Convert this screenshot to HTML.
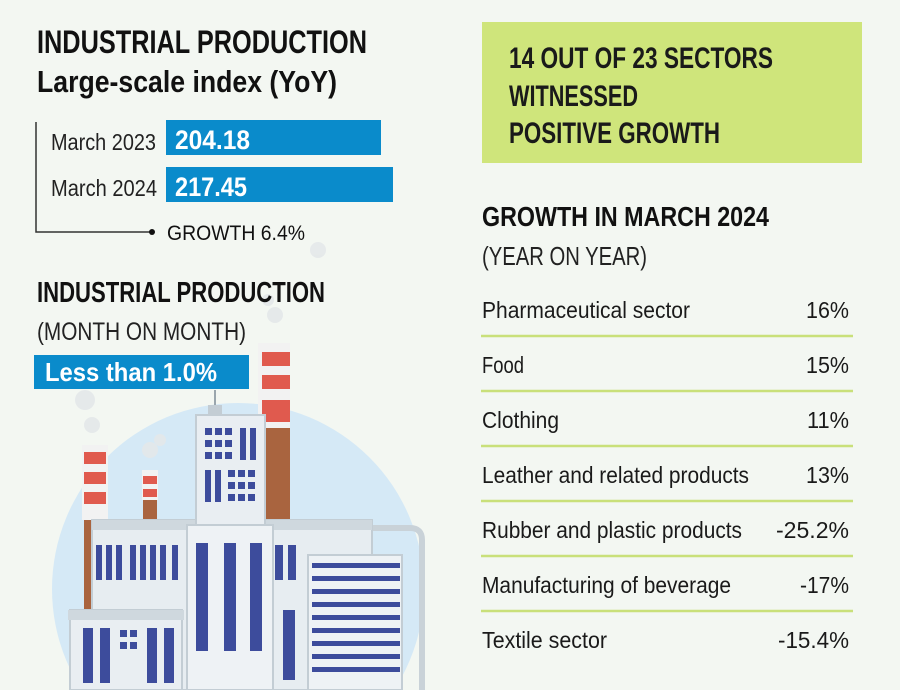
<!DOCTYPE html>
<html><head><meta charset="utf-8"><style>
html,body{margin:0;padding:0;background:#f3f7f2;width:900px;height:690px;overflow:hidden;}
svg{display:block;}
text{font-family:"Liberation Sans",sans-serif;}
</style></head><body>
<svg width="900" height="690" viewBox="0 0 900 690" xmlns="http://www.w3.org/2000/svg">
<rect width="900" height="690" fill="#f3f7f2"/>
<circle cx="238" cy="589" r="186" fill="#d5e9f6"/>
<g fill="#e4e8ea" opacity="0.9">
<circle cx="85" cy="400" r="10"/><circle cx="92" cy="425" r="8"/>
<circle cx="150" cy="450" r="8"/><circle cx="160" cy="440" r="6"/>
<circle cx="275" cy="315" r="8"/><circle cx="268" cy="300" r="6"/>
<circle cx="318" cy="250" r="8"/>
</g>
<rect x="84" y="445" width="22" height="170" fill="#a9643f"/>
<rect x="82" y="445" width="26" height="75" fill="#f2f2f2"/>
<rect x="84" y="452" width="22" height="12" fill="#e05a4e"/>
<rect x="84" y="472" width="22" height="12" fill="#e05a4e"/>
<rect x="84" y="492" width="22" height="12" fill="#e05a4e"/>
<rect x="143" y="470" width="14" height="55" fill="#a9643f"/>
<rect x="142" y="470" width="16" height="30" fill="#f2f2f2"/>
<rect x="143" y="476" width="14" height="8" fill="#e05a4e"/>
<rect x="143" y="489" width="14" height="8" fill="#e05a4e"/>
<rect x="262" y="345" width="28" height="180" fill="#a9643f"/>
<rect x="258" y="343" width="32" height="85" fill="#f2f2f2"/>
<rect x="262" y="352" width="28" height="14" fill="#e05a4e"/>
<rect x="262" y="375" width="28" height="14" fill="#e05a4e"/>
<rect x="262" y="400" width="28" height="22" fill="#e05a4e"/>
<path d="M360 528 H410 Q422 528 422 540 V690" fill="none" stroke="#c9d2d8" stroke-width="6"/>
<rect x="92" y="520" width="280" height="170" fill="#e7edf1" stroke="#c3cdd4" stroke-width="2"/>
<rect x="92" y="520" width="280" height="10" fill="#cfd8de"/>
<g fill="#3d4c9c">
<rect x="96" y="545" width="6" height="35"/><rect x="106" y="545" width="6" height="35"/><rect x="116" y="545" width="6" height="35"/>
<rect x="130" y="545" width="6" height="35"/><rect x="140" y="545" width="6" height="35"/><rect x="150" y="545" width="6" height="35"/><rect x="160" y="545" width="6" height="35"/>
<rect x="172" y="545" width="6" height="35"/>
<rect x="275" y="545" width="8" height="35"/><rect x="288" y="545" width="8" height="35"/>
</g>
<rect x="196" y="415" width="69" height="110" fill="#e9eef2" stroke="#c3cdd4" stroke-width="2"/>
<rect x="208" y="405" width="14" height="10" fill="#c3cdd4"/>
<rect x="214" y="390" width="2" height="15" fill="#9aa6ad"/>
<g fill="#3d4c9c">
<rect x="205" y="428" width="7" height="7"/><rect x="215" y="428" width="7" height="7"/><rect x="225" y="428" width="7" height="7"/>
<rect x="205" y="440" width="7" height="7"/><rect x="215" y="440" width="7" height="7"/><rect x="225" y="440" width="7" height="7"/>
<rect x="205" y="452" width="7" height="7"/><rect x="215" y="452" width="7" height="7"/><rect x="225" y="452" width="7" height="7"/>
<rect x="240" y="428" width="6" height="32"/><rect x="250" y="428" width="6" height="32"/>
<rect x="205" y="470" width="6" height="32"/><rect x="215" y="470" width="6" height="32"/>
<rect x="228" y="470" width="7" height="7"/><rect x="238" y="470" width="7" height="7"/><rect x="248" y="470" width="7" height="7"/>
<rect x="228" y="482" width="7" height="7"/><rect x="238" y="482" width="7" height="7"/><rect x="248" y="482" width="7" height="7"/>
<rect x="228" y="494" width="7" height="7"/><rect x="238" y="494" width="7" height="7"/><rect x="248" y="494" width="7" height="7"/>
</g>
<rect x="187" y="525" width="86" height="165" fill="#eef2f5" stroke="#c3cdd4" stroke-width="2"/>
<g fill="#3d4c9c">
<rect x="196" y="543" width="12" height="108"/><rect x="224" y="543" width="12" height="108"/><rect x="250" y="543" width="12" height="108"/>
</g>
<rect x="70" y="610" width="112" height="80" fill="#e9eef2" stroke="#c3cdd4" stroke-width="2"/>
<rect x="68" y="610" width="116" height="10" fill="#cfd8de"/>
<g fill="#3d4c9c">
<rect x="83" y="628" width="10" height="55"/><rect x="100" y="628" width="10" height="55"/>
<rect x="120" y="630" width="7" height="7"/><rect x="130" y="630" width="7" height="7"/><rect x="120" y="642" width="7" height="7"/><rect x="130" y="642" width="7" height="7"/>
<rect x="147" y="628" width="10" height="55"/><rect x="164" y="628" width="10" height="55"/>
</g>
<rect x="308" y="555" width="94" height="135" fill="#eef2f5" stroke="#c3cdd4" stroke-width="2"/>
<g fill="#3d4c9c">
<rect x="312" y="563" width="88" height="5"/><rect x="312" y="576" width="88" height="5"/><rect x="312" y="589" width="88" height="5"/>
<rect x="312" y="602" width="88" height="5"/><rect x="312" y="615" width="88" height="5"/><rect x="312" y="628" width="88" height="5"/>
<rect x="312" y="641" width="88" height="5"/><rect x="312" y="654" width="88" height="5"/><rect x="312" y="667" width="88" height="5"/>
<rect x="283" y="610" width="12" height="70"/>
</g>

<text x="37" y="53" font-size="32" font-weight="bold" fill="#111" textLength="330" lengthAdjust="spacingAndGlyphs">INDUSTRIAL PRODUCTION</text>
<text x="37" y="92" font-size="31" font-weight="bold" fill="#111" textLength="300" lengthAdjust="spacingAndGlyphs">Large-scale index (YoY)</text>
<path d="M36 122 V232 H152" fill="none" stroke="#333" stroke-width="1.5"/>
<circle cx="152" cy="232" r="3" fill="#111"/>
<text x="51" y="150" font-size="23" fill="#222" textLength="105" lengthAdjust="spacingAndGlyphs">March 2023</text>
<rect x="166" y="120" width="215" height="35" fill="#0a8bcb"/>
<text x="175" y="149" font-size="27" font-weight="bold" fill="#fff" textLength="75" lengthAdjust="spacingAndGlyphs">204.18</text>
<text x="51" y="196" font-size="23" fill="#222" textLength="106" lengthAdjust="spacingAndGlyphs">March 2024</text>
<rect x="166" y="167" width="227" height="35" fill="#0a8bcb"/>
<text x="175" y="196" font-size="27" font-weight="bold" fill="#fff" textLength="72" lengthAdjust="spacingAndGlyphs">217.45</text>
<text x="167" y="240" font-size="21" fill="#111" textLength="138" lengthAdjust="spacingAndGlyphs">GROWTH 6.4%</text>
<text x="37" y="302" font-size="29" font-weight="bold" fill="#111" textLength="288" lengthAdjust="spacingAndGlyphs">INDUSTRIAL PRODUCTION</text>
<text x="37" y="340" font-size="25" fill="#222" textLength="209" lengthAdjust="spacingAndGlyphs">(MONTH ON MONTH)</text>
<rect x="34" y="355" width="215" height="34" fill="#0a8bcb"/>
<text x="45" y="381" font-size="26" font-weight="bold" fill="#fff" textLength="172" lengthAdjust="spacingAndGlyphs">Less than 1.0%</text>

<rect x="482" y="22" width="380" height="141" fill="#cfe57b"/>
<text x="509" y="68" font-size="30" font-weight="bold" fill="#1a1a1a" textLength="264" lengthAdjust="spacingAndGlyphs">14 OUT OF 23 SECTORS</text>
<text x="509" y="106" font-size="30" font-weight="bold" fill="#1a1a1a" textLength="129" lengthAdjust="spacingAndGlyphs">WITNESSED</text>
<text x="509" y="143" font-size="30" font-weight="bold" fill="#1a1a1a" textLength="211" lengthAdjust="spacingAndGlyphs">POSITIVE GROWTH</text>
<text x="482" y="226" font-size="28" font-weight="bold" fill="#111" textLength="287" lengthAdjust="spacingAndGlyphs">GROWTH IN MARCH 2024</text>
<text x="482" y="265" font-size="26" fill="#222" textLength="165" lengthAdjust="spacingAndGlyphs">(YEAR ON YEAR)</text>
<g stroke="#c9e07a" stroke-width="2.5">
<line x1="481" y1="336" x2="853" y2="336"/><line x1="481" y1="391" x2="853" y2="391"/><line x1="481" y1="446" x2="853" y2="446"/>
<line x1="481" y1="501" x2="853" y2="501"/><line x1="481" y1="556" x2="853" y2="556"/><line x1="481" y1="611" x2="853" y2="611"/>
</g>
<g font-size="23" fill="#1a1a1a">
<text x="482" y="318" textLength="208" lengthAdjust="spacingAndGlyphs">Pharmaceutical sector</text>
<text x="482" y="373" textLength="42" lengthAdjust="spacingAndGlyphs">Food</text>
<text x="482" y="428" textLength="77" lengthAdjust="spacingAndGlyphs">Clothing</text>
<text x="482" y="483" textLength="267" lengthAdjust="spacingAndGlyphs">Leather and related products</text>
<text x="482" y="538" textLength="260" lengthAdjust="spacingAndGlyphs">Rubber and plastic products</text>
<text x="482" y="593" textLength="249" lengthAdjust="spacingAndGlyphs">Manufacturing of beverage</text>
<text x="482" y="648" textLength="125" lengthAdjust="spacingAndGlyphs">Textile sector</text>
<text x="806" y="318" textLength="43" lengthAdjust="spacingAndGlyphs">16%</text>
<text x="806" y="373" textLength="43" lengthAdjust="spacingAndGlyphs">15%</text>
<text x="807" y="428" textLength="42" lengthAdjust="spacingAndGlyphs">11%</text>
<text x="806" y="483" textLength="43" lengthAdjust="spacingAndGlyphs">13%</text>
<text x="776" y="538" textLength="73" lengthAdjust="spacingAndGlyphs">-25.2%</text>
<text x="800" y="593" textLength="49" lengthAdjust="spacingAndGlyphs">-17%</text>
<text x="778" y="648" textLength="71" lengthAdjust="spacingAndGlyphs">-15.4%</text>
</g>
</svg>
</body></html>
